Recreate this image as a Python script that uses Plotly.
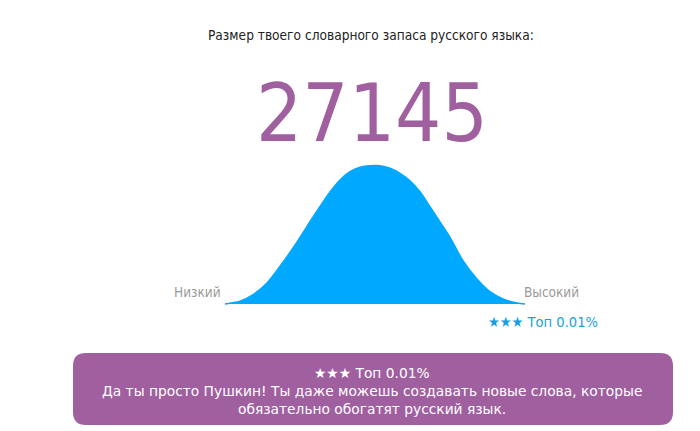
import plotly.graph_objects as go

# curve: position (px across) and height above the base
curve_x = [225, 240, 253, 267, 280, 293, 307, 320, 330, 340, 350, 360, 370,
           380, 390, 400, 410, 420, 430, 440, 450, 463, 477, 490, 503, 517, 525]
curve_h = [0, 2.7, 9.3, 21, 37.7, 56, 77.7, 97.5, 112, 124, 132.3, 136.7, 138.2,
           138.2, 135.7, 130.7, 123.3, 112.3, 97.3, 82, 66.7, 43.3, 25, 12.3, 5, 1, 0]

title_text = "Размер твоего словарного запаса русского языка:"
score = "27145"
low_label = "Низкий"
high_label = "Высокий"
rank_text = "★★★ Топ 0.01%"
verdict_lines = ["★★★ Топ 0.01%",
                 "Да ты просто Пушкин! Ты даже можешь создавать новые слова, которые",
                 "обязательно обогатят русский язык."]

BLUE = "#00a9ff"
PURPLE = "#a05f9f"
COND = "DejaVu Sans Condensed, Liberation Sans, Arial, sans-serif"
WIDE = "DejaVu Sans, Verdana, sans-serif"
BASE = 304   # page y of the curve's base line
OFF = 8      # page body margin


def py(page_y):
    return BASE - page_y


fig = go.Figure()
fig.add_trace(go.Scatter(x=curve_x, y=curve_h,
                         mode="lines",
                         line={"color": BLUE, "width": 1.5, "shape": "spline", "smoothing": 0.9},
                         fill="tozeroy",
                         fillcolor=BLUE,
                         hoverinfo="skip"))

# rounded verdict box
x0, x1, y0, y1, r = 73, 673, py(353), py(425), 13
box = (f"M {x0 + r},{y0} L {x1 - r},{y0} Q {x1},{y0} {x1},{y0 - r} "
       f"L {x1},{y1 + r} Q {x1},{y1} {x1 - r},{y1} L {x0 + r},{y1} "
       f"Q {x0},{y1} {x0},{y1 + r} L {x0},{y0 - r} Q {x0},{y0} {x0 + r},{y0} Z")
fig.add_shape(type="path", path=box, xref="x", yref="y",
              fillcolor=PURPLE, line={"width": 0}, layer="below")

notes = [
    (371, py(35), title_text, COND, {"size": 13.6, "color": "#222222"}),
    (372, py(113), score, COND, {"size": 81, "color": PURPLE}),
    (197, py(292), low_label, COND, {"size": 13.5, "color": "#9a9a9a"}),
    (551, py(292), high_label, COND, {"size": 13.5, "color": "#9a9a9a"}),
    (543, py(321), rank_text, COND, {"size": 14.6, "color": "#1aa0e0"}),
]
for i, line in enumerate(verdict_lines):
    notes.append((372, py(373 + 18 * i), line, WIDE, {"size": 13.8, "color": "white"}))

for x, y, text, family, font in notes:
    fig.add_annotation(x=x, y=y, xref="x", yref="y", text=text, showarrow=False,
                       xanchor="center", yanchor="middle",
                       font={"family": family, **font})

fig.update_layout(width=700, height=431,
                  margin={"l": 0, "r": 0, "t": 0, "b": 0},
                  paper_bgcolor="white", plot_bgcolor="white",
                  showlegend=False,
                  xaxis={"range": [OFF, 700 + OFF], "visible": False, "fixedrange": True},
                  yaxis={"range": [py(431 + OFF), py(OFF)], "visible": False, "fixedrange": True})

fig.write_html("out.html")
